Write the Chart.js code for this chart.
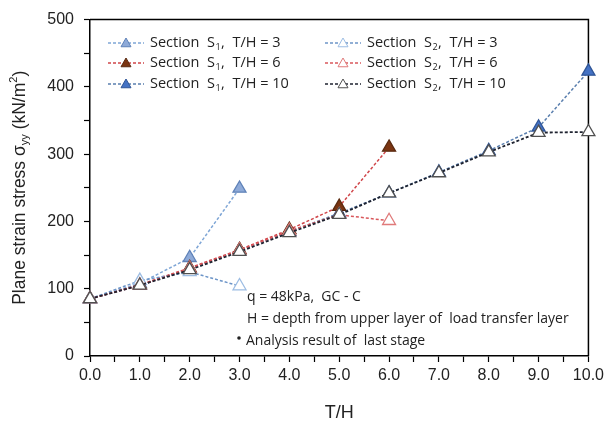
<!DOCTYPE html>
<html><head><meta charset="utf-8">
<script src="https://cdn.jsdelivr.net/npm/chart.js@4"></script>
<style>html,body{margin:0;padding:0;background:#fff}#wrap{width:608px;height:423px}</style>
</head><body><div id="wrap"><canvas id="c" width="608" height="423"></canvas></div>
<script>
const xS1_3 = [0,1,2,3];
const yS1_3 = [85,108,146,249];
const xS2_3 = [0,1,2,3];
const yS2_3 = [85,112,125,104];
const xS1_6 = [0,1,2,3,4,5,6];
const yS1_6 = [85,106,131,158,188,222,310];
const xS2_6 = [0,1,2,3,4,5,6];
const yS2_6 = [85,105,130,157,186,210,201];
const xS1_10 = [0,1,2,3,4,5,6,7,8,9,10];
const yS1_10 = [85,105,130,157,185,212,242,273,305,340,423];
const xS2_10 = [0,1,2,3,4,5,6,7,8,9,10];
const yS2_10 = [85,105,128,155,183,210,242,272,303,332,333];
const legendSub = ['1','1','1','2','2','2'];
const legendTH = ['3','6','10','3','6','10'];
const notes = ['q = 48kPa,  GC - C','H = depth from upper layer of  load transfer layer','Analysis result of  last stage'];

const pts = (xs, ys) => xs.map((x,i)=>({x, y: ys[i]}));
function ds(label, xs, ys, line, fill, border, order, lw){
  return {label, data: pts(xs,ys), borderColor: line, borderWidth: lw||1.5, borderDash:[3,2],
    pointStyle:'triangle', pointRadius:7.5, pointHoverRadius:7.5, pointBackgroundColor: fill,
    pointBorderColor: border, pointBorderWidth:1.3, fill:false, tension:0, order, clip:false};
}
const datasets = [
  ds('S1_3', xS1_3, yS1_3, '#7fa6d6', '#8eaad8', '#5f82b8', 5),
  ds('S1_6', xS1_6, yS1_6, '#d0464a', '#7b3512', '#5a2a10', 4),
  ds('S1_10', xS1_10, yS1_10, '#5a7fae', '#4472c4', '#2f5597', 6),
  ds('S2_3', xS2_3, yS2_3, '#6d95c8', '#ffffff', '#9dbde3', 3),
  ds('S2_6', xS2_6, yS2_6, '#d9585c', '#ffffff', '#e07a7a', 2),
  ds('S2_10', xS2_10, yS2_10, '#1f2330', '#ffffff', '#505050', 1, 1.8),
];

const deco = {
  id:'deco',
  beforeDatasetsDraw(chart){
    const ctx = chart.ctx, a = chart.chartArea;
    ctx.save();
    ctx.strokeStyle='#000'; ctx.lineWidth=1.5;
    ctx.beginPath(); ctx.moveTo(a.left,a.top); ctx.lineTo(a.right,a.top); ctx.lineTo(a.right,a.bottom); ctx.stroke();
    ctx.restore();
  },
  afterDraw(chart){
    const ctx = chart.ctx, a = chart.chartArea;
    ctx.save();
    const cols=[108,325], rows=[43,63,84];
    ctx.textBaseline='middle';
    for(let i=0;i<6;i++){
      const d=datasets[i];
      const x0=cols[Math.floor(i/3)], y=rows[i%3];
      ctx.strokeStyle=d.borderColor; ctx.lineWidth=1.3; ctx.setLineDash([3,2]);
      ctx.beginPath(); ctx.moveTo(x0,y); ctx.lineTo(x0+36,y); ctx.stroke(); ctx.setLineDash([]);
      const cx=x0+18, r=5;
      ctx.beginPath(); ctx.moveTo(cx,y-r); ctx.lineTo(cx+r,y+r*0.75); ctx.lineTo(cx-r,y+r*0.75); ctx.closePath();
      ctx.fillStyle=d.pointBackgroundColor; ctx.fill(); ctx.strokeStyle=d.pointBorderColor; ctx.lineWidth=1; ctx.stroke();
      let tx=x0+42;
      ctx.fillStyle='#222'; ctx.font='14.5px "Open Sans", sans-serif'; ctx.textAlign='left';
      const t1='Section  S'; ctx.fillText(t1,tx,y); tx+=ctx.measureText(t1).width;
      ctx.font='9px "Open Sans", sans-serif'; ctx.fillText(legendSub[i],tx+0.5,y+4); tx+=ctx.measureText(legendSub[i]).width+1;
      ctx.font='14.5px "Open Sans", sans-serif'; ctx.fillText(',  T/H = '+legendTH[i],tx,y);
    }
    ctx.font='14px "Open Sans", sans-serif'; ctx.fillStyle='#222';
    ctx.fillText(notes[0],247,297); ctx.fillText(notes[1],247,319); ctx.fillText(notes[2],246,341);
    ctx.beginPath(); ctx.arc(239,338,1.8,0,Math.PI*2); ctx.fill();
    ctx.fillStyle='#222';
    ctx.font='18px "Liberation Sans", Arial, sans-serif'; ctx.textAlign='center';
    ctx.fillText('T/H', (a.left+a.right)/2, 413);
    ctx.save(); ctx.translate(20,(a.top+a.bottom)/2); ctx.rotate(-Math.PI/2);
    const p1='Plane strain stress σ', p2='yy', p3=' (kN/m', p4='2', p5=')';
    const f1='17.5px "Liberation Sans", Arial, sans-serif', f2='11px "Liberation Sans", Arial, sans-serif';
    ctx.font=f1; let w=ctx.measureText(p1).width+ctx.measureText(p3).width+ctx.measureText(p5).width;
    ctx.font=f2; w+=ctx.measureText(p2).width+ctx.measureText(p4).width;
    let x=-w/2; ctx.textAlign='left';
    ctx.font=f1; ctx.fillText(p1,x,0); x+=ctx.measureText(p1).width;
    ctx.font=f2; ctx.fillText(p2,x,5); x+=ctx.measureText(p2).width;
    ctx.font=f1; ctx.fillText(p3,x,0); x+=ctx.measureText(p3).width;
    ctx.font=f2; ctx.fillText(p4,x,-6); x+=ctx.measureText(p4).width;
    ctx.font=f1; ctx.fillText(p5,x,0);
    ctx.restore();
    ctx.restore();
  }
};

new Chart(document.getElementById('c'), {
  type:'line',
  data:{datasets},
  options:{
    responsive:false, animation:false,
    layout:{padding:{top:16,right:18,left:0,bottom:0}},
    plugins:{legend:{display:false},tooltip:{enabled:false}},
    scales:{
      x:{type:'linear',min:0,max:10,
        afterFit:s=>{s.height=67;},
        afterBuildTicks:s=>{s.ticks=[];for(let v=0;v<=20;v++)s.ticks.push({value:v/2});},
        grid:{drawOnChartArea:false,drawTicks:true,tickLength:6,color:'#000',tickWidth:1.2},
        border:{color:'#000',width:1.5},
        ticks:{autoSkip:false,maxRotation:0,padding:4,color:'#222',font:{size:16,family:'"Liberation Sans", Arial, sans-serif'},
          callback:v=> (Math.abs(v-Math.round(v))<1e-6)? v.toFixed(1):''}},
      y:{min:0,max:500,
        afterFit:s=>{s.width=90;},
        afterBuildTicks:s=>{s.ticks=[];for(let v=0;v<=500;v+=50)s.ticks.push({value:v});},
        grid:{drawOnChartArea:false,drawTicks:true,tickLength:6,color:'#000',tickWidth:1.2},
        border:{color:'#000',width:1.5},
        ticks:{autoSkip:false,padding:10,color:'#222',font:{size:16,family:'"Liberation Sans", Arial, sans-serif'},
          callback:v=> (v%100===0)? String(v):''}}
    }
  },
  plugins:[deco]
});
</script></body></html>
